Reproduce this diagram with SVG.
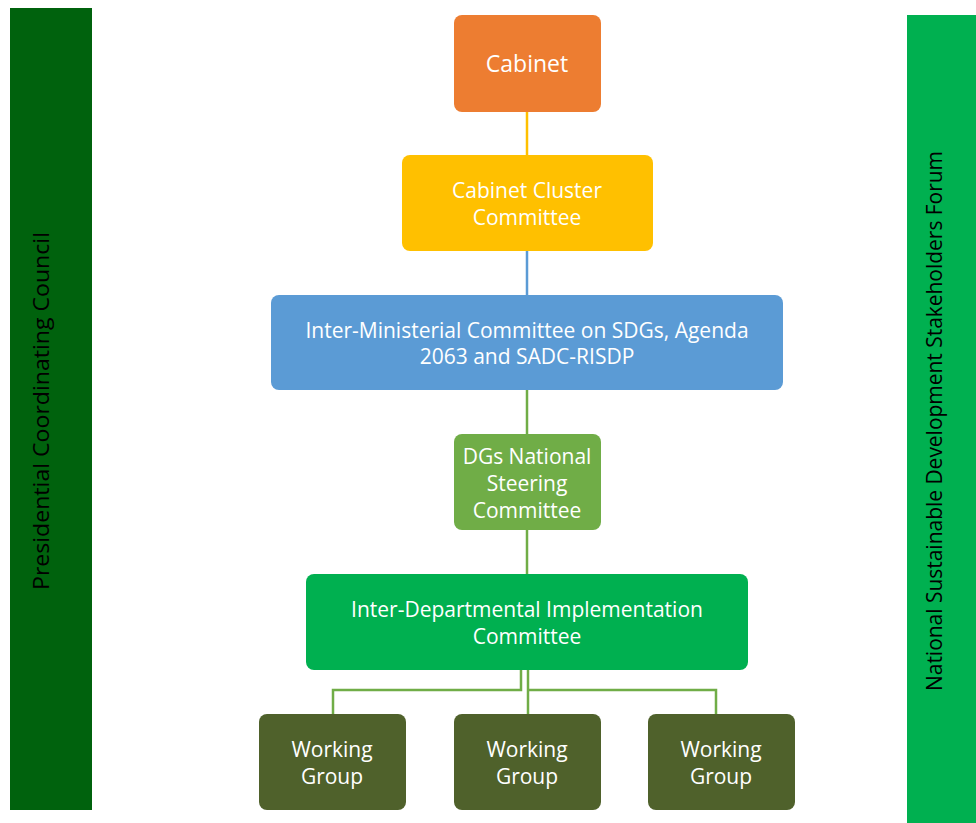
<svg xmlns="http://www.w3.org/2000/svg" width="976" height="823" viewBox="0 0 976 823">
<style>
.t{font-family:"Open Sans","Liberation Sans",sans-serif;font-size:21px;fill:#fff;text-anchor:middle;dominant-baseline:central}
.s{font-family:"Open Sans","Liberation Sans",sans-serif;font-size:22px;fill:#000;text-anchor:middle;dominant-baseline:central}
.c{fill:none;stroke-width:2.5}
</style>
<rect width="976" height="823" fill="#fff"/>
<g id="pcc"><rect x="10" y="8" width="82" height="802" fill="#00620D"/>
<text class="s" transform="translate(40,411) rotate(-90)" textLength="358" lengthAdjust="spacingAndGlyphs">Presidential Coordinating Council</text></g>
<g id="nsdsf"><rect x="907" y="15" width="69" height="808" fill="#00B050"/>
<text class="s" transform="translate(933,421) rotate(-90)" textLength="540" lengthAdjust="spacingAndGlyphs">National Sustainable Development Stakeholders Forum</text></g>
<g id="connectors">
<line class="c" x1="527" y1="112" x2="527" y2="155" stroke="#FFC000"/>
<line class="c" x1="527" y1="251" x2="527" y2="295" stroke="#5B9BD5"/>
<line class="c" x1="527" y1="390" x2="527" y2="434" stroke="#70AD47"/>
<line class="c" x1="527" y1="530" x2="527" y2="574" stroke="#70AD47"/>
<polyline class="c" points="521,670 521,690 333,690 333,714" stroke="#70AD47"/>
<line class="c" x1="528" y1="670" x2="528" y2="714" stroke="#70AD47"/>
<polyline class="c" points="528,690 716,690 716,714" stroke="#70AD47"/>
</g>
<g id="cabinet"><rect x="454" y="15" width="147" height="97" rx="8" fill="#ED7D31"/><text class="t" x="527" y="63" style="font-size:23px">Cabinet</text></g>
<g id="ccc"><rect x="402" y="155" width="251" height="96" rx="8" fill="#FFC000"/><text class="t" x="527" y="190">Cabinet Cluster</text><text class="t" x="527" y="217">Committee</text></g>
<g id="imc"><rect x="271" y="295" width="512" height="95" rx="8" fill="#5B9BD5"/><text class="t" x="527" y="330">Inter-Ministerial Committee on SDGs, Agenda</text><text class="t" x="527" y="356">2063 and SADC-RISDP</text></g>
<g id="dgs"><rect x="454" y="434" width="147" height="96" rx="8" fill="#70AD47"/><text class="t" x="527" y="456">DGs National</text><text class="t" x="527" y="483">Steering</text><text class="t" x="527" y="510">Committee</text></g>
<g id="idic"><rect x="306" y="574" width="442" height="96" rx="8" fill="#00B050"/><text class="t" x="527" y="609">Inter-Departmental Implementation</text><text class="t" x="527" y="636">Committee</text></g>
<g id="wg1"><rect x="259" y="714" width="147" height="96" rx="8" fill="#4F612B"/><text class="t" x="332" y="749">Working</text><text class="t" x="332" y="776">Group</text></g>
<g id="wg2"><rect x="454" y="714" width="147" height="96" rx="8" fill="#4F612B"/><text class="t" x="527" y="749">Working</text><text class="t" x="527" y="776">Group</text></g>
<g id="wg3"><rect x="648" y="714" width="147" height="96" rx="8" fill="#4F612B"/><text class="t" x="721" y="749">Working</text><text class="t" x="721" y="776">Group</text></g>
</svg>
